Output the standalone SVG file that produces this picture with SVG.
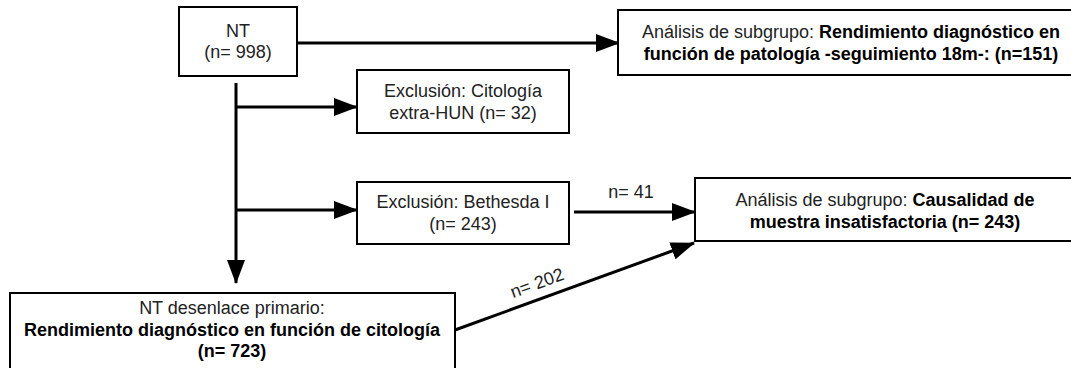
<svg xmlns="http://www.w3.org/2000/svg" width="1071" height="368" viewBox="0 0 1071 368">
<style>
.box{fill:#fff;stroke:#000;stroke-width:2}
.t{font-family:"Liberation Sans",Arial,sans-serif;font-size:18px;fill:#222;text-anchor:middle}
.b{font-weight:bold;fill:#000}
.c{stroke:#000;stroke-width:3;fill:none}
</style>
<defs>
<marker id="ah" markerUnits="userSpaceOnUse" markerWidth="24" markerHeight="18" refX="23" refY="9" orient="auto">
<path d="M0,0 L24,9 L0,18 Z" fill="#000"/>
</marker>
</defs>
<g id="connectors">
<line class="c" x1="297" y1="43" x2="619" y2="43" marker-end="url(#ah)"/>
<line class="c" x1="236" y1="83" x2="236" y2="283" marker-end="url(#ah)"/>
<line class="c" x1="236" y1="107" x2="357" y2="107" marker-end="url(#ah)"/>
<line class="c" x1="236" y1="210" x2="357" y2="210" marker-end="url(#ah)"/>
<line class="c" x1="574" y1="212" x2="695" y2="212" marker-end="url(#ah)"/>
<line class="c" x1="455" y1="330" x2="694" y2="243" marker-end="url(#ah)"/>
<text class="t" x="631" y="198">n= 41</text>
<text class="t" x="537" y="289" transform="rotate(-20 537 283)">n= 202</text>
</g>
<g id="nt">
<rect class="box" x="179" y="7" width="118" height="69"/>
<text class="t" x="238" y="37">NT</text>
<text class="t" x="238" y="58">(n= 998)</text>
</g>
<g id="subgrupo1">
<rect class="box" x="618" y="10" width="470" height="65"/>
<text class="t" x="851" y="38">Análisis de subgrupo: <tspan class="b">Rendimiento diagnóstico en</tspan></text>
<text class="t b" x="851" y="60">función de patología -seguimiento 18m-: (n=151)</text>
</g>
<g id="citologia">
<rect class="box" x="357" y="70" width="212" height="63"/>
<text class="t" x="463" y="97">Exclusión: Citología</text>
<text class="t" x="463" y="119">extra-HUN (n= 32)</text>
</g>
<g id="bethesda">
<rect class="box" x="357" y="182" width="212" height="62"/>
<text class="t" x="463" y="208">Exclusión: Bethesda I</text>
<text class="t" x="463" y="230">(n= 243)</text>
</g>
<g id="subgrupo2">
<rect class="box" x="695" y="178" width="390" height="63"/>
<text class="t" x="885" y="206">Análisis de subgrupo: <tspan class="b">Causalidad de</tspan></text>
<text class="t b" x="885" y="228">muestra insatisfactoria (n= 243)</text>
</g>
<g id="primario">
<rect class="box" x="10" y="293" width="445" height="90"/>
<text class="t" x="232" y="314">NT desenlace primario:</text>
<text class="t b" x="232" y="336">Rendimiento diagnóstico en función de citología</text>
<text class="t b" x="232" y="357">(n= 723)</text>
</g>
</svg>
